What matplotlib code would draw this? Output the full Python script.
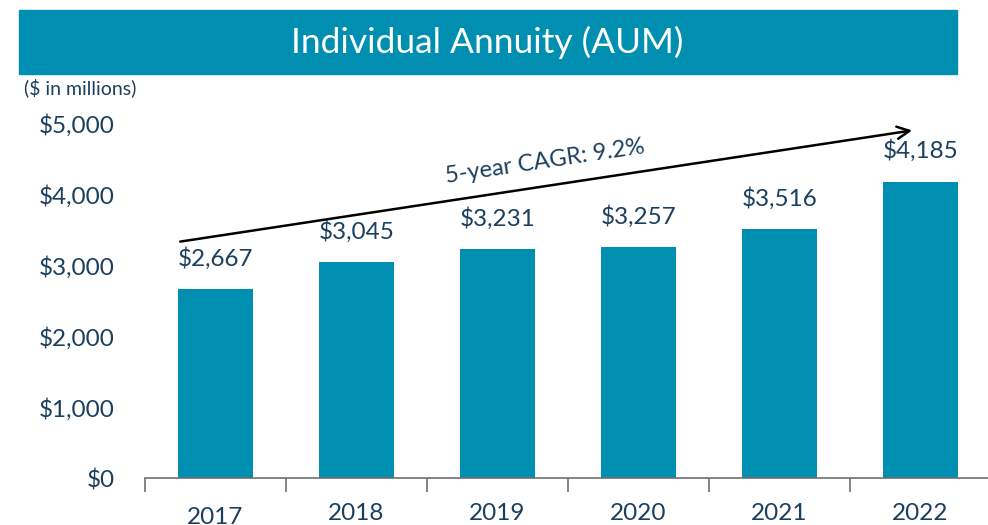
import matplotlib.pyplot as plt
from matplotlib.patches import Rectangle

years = ['2017', '2018', '2019', '2020', '2021', '2022']
aum = [2667, 3045, 3231, 3257, 3516, 4185]
yticks = [0, 1000, 2000, 3000, 4000, 5000]

teal = '#008FB0'
navy = '#1B3F5E'
plt.rcParams['font.family'] = ['Lato', 'DejaVu Sans']

fig = plt.figure(figsize=(9.88, 5.25), dpi=100)

# title banner
fig.patches.append(Rectangle((19 / 988, 1 - 74 / 525), 938 / 988, 64 / 525,
                             transform=fig.transFigure, color=teal, zorder=0))
fig.text(487 / 988, 1 - 42 / 525, 'Individual Annuity (AUM)', color='white',
         fontsize=25.5, ha='center', va='center')
fig.text(24 / 988, 1 - 88 / 525, '($ in millions)', color=navy, fontsize=14,
         ha='left', va='center')

ax = fig.add_axes([145 / 988, 1 - 478 / 525, 846 / 988, 354 / 525])
x = list(range(len(years)))
ax.bar(x, aum, width=0.53, color=teal)
ax.set_xlim(-0.5, len(years) - 0.5)
ax.set_ylim(0, 5000)

# value labels above bars
for xi, v in zip(x, aum):
    ax.annotate(f'${v:,}', (xi, v), xytext=(0, 31), textcoords='offset pixels',
                ha='center', va='center', color=navy, fontsize=17.5)

ax.set_yticks(yticks)
ax.set_yticklabels([f'${t:,}' for t in yticks], color=navy, fontsize=17.5)
ax.tick_params(axis='y', length=0, pad=22)

# ticks sit between the bars, year labels centred under them
ax.set_xticks([i - 0.5 for i in range(len(years) + 1)])
ax.set_xticklabels([])
ax.tick_params(axis='x', length=10, width=1.2, color='#707070', direction='out')
for xi, yr in zip(x, years):
    dy = -39 if yr == '2017' else -35
    ax.annotate(yr, (xi, 0), xytext=(0, dy), textcoords='offset pixels',
                ha='center', va='center', color=navy, fontsize=17.5,
                annotation_clip=False)

for s in ['top', 'right', 'left']:
    ax.spines[s].set_visible(False)
ax.spines['bottom'].set_color('#707070')
ax.spines['bottom'].set_linewidth(1.2)

# CAGR arrow
ax.annotate('', xy=(4.96, 4915), xytext=(-0.27, 3333),
            arrowprops=dict(arrowstyle='->', color='black', lw=1.8,
                            mutation_scale=22), annotation_clip=False)
ax.text(2.34, 4463, '5-year CAGR: 9.2%', rotation=8.6, ha='center', va='center',
        color=navy, fontsize=17, rotation_mode='anchor')

fig.savefig('out.png', dpi=100)
